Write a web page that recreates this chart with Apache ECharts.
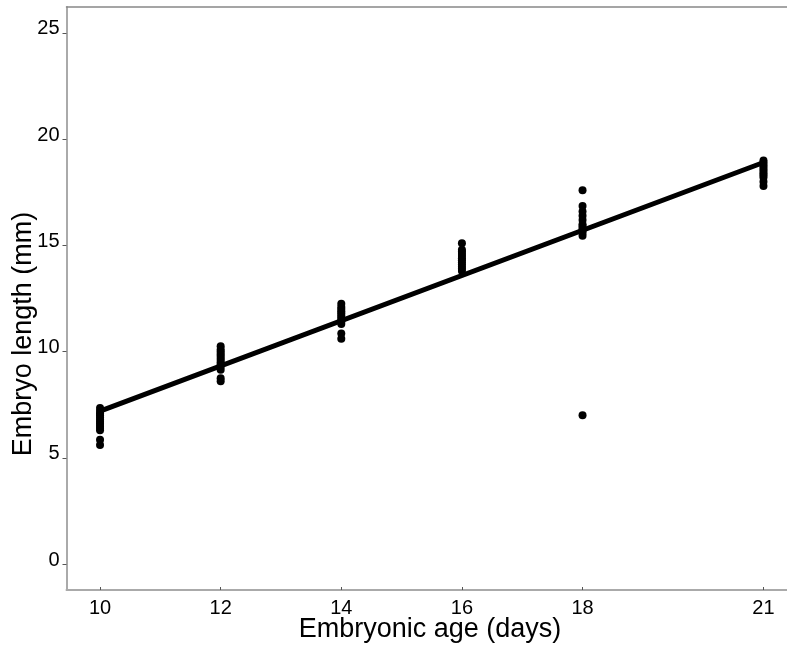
<!DOCTYPE html>
<html>
<head>
<meta charset="utf-8">
<script src="https://cdn.jsdelivr.net/npm/echarts@6/dist/echarts.min.js"></script>
<style>html,body{margin:0;padding:0;background:#fff}#c{width:787px;height:650px}</style>
</head>
<body>
<div id="c"></div>
<script>
// Data
var ages = [10, 12, 14, 16, 18, 21];
var len10 = [7.35, 7.2, 7.1, 7.0, 6.9, 6.8, 6.7, 6.6, 6.5, 6.4, 6.3, 5.85, 5.6];
var len12 = [10.25, 10.1, 10.0, 9.9, 9.8, 9.7, 9.6, 9.5, 9.4, 9.3, 9.15, 8.75, 8.6];
var len14 = [12.25, 12.1, 12.0, 11.9, 11.8, 11.7, 11.6, 11.5, 11.4, 11.3, 10.85, 10.6];
var len16 = [15.1, 14.8, 14.7, 14.6, 14.5, 14.4, 14.3, 14.2, 14.1, 14.0, 13.9, 13.8];
var len18 = [17.6, 16.85, 16.6, 16.4, 16.2, 16.0, 15.9, 15.8, 15.7, 15.6, 15.45, 7.0];
var len21 = [19.0, 18.9, 18.8, 18.7, 18.6, 18.5, 18.4, 18.3, 18.2, 18.0, 17.8];
var fitX = [10, 21];
var fitY = [7.2, 18.9];
var xTicks = [10, 12, 14, 16, 18, 21];
var yTicks = [0, 5, 10, 15, 20, 25];

var groups = [len10, len12, len14, len16, len18, len21];
var pts = [];
groups.forEach(function (g, i) {
  g.forEach(function (v) { pts.push([ages[i], v]); });
});
var fit = fitX.map(function (x, i) { return [x, fitY[i]]; });

var chart = echarts.init(document.getElementById('c'), null, {renderer: 'canvas'});
var font = '"Liberation Sans", Arial, sans-serif';
chart.setOption({
  animation: false,
  backgroundColor: '#ffffff',
  grid: {left: 66.5, right: 0, top: 7, bottom: 60, containLabel: false},
  xAxis: [{
    type: 'value', min: 9.444, max: 21.39, position: 'bottom',
    splitLine: {show: false},
    axisLine: {show: true, onZero: false, lineStyle: {color: '#aaaaaa', width: 2}},
    axisTick: {show: true, inside: true, length: 3, customValues: xTicks, lineStyle: {color: '#555', width: 1}},
    axisLabel: {customValues: xTicks, color: '#000', fontSize: 20, fontFamily: font, margin: 8}
  }, {
    type: 'value', min: 9.444, max: 21.39, position: 'top',
    splitLine: {show: false},
    axisLine: {show: true, onZero: false, lineStyle: {color: '#888888', width: 1.5}},
    axisTick: {show: false}, axisLabel: {show: false}
  }],
  yAxis: {
    type: 'value', min: -1.22, max: 26.22,
    splitLine: {show: false},
    axisLine: {show: true, onZero: false, lineStyle: {color: '#aaaaaa', width: 2}},
    axisTick: {show: true, length: 4, customValues: yTicks, lineStyle: {color: '#555', width: 1}},
    axisLabel: {customValues: yTicks, color: '#000', fontSize: 20, fontFamily: font, margin: 7,
      verticalAlign: 'bottom', lineHeight: 8}
  },
  graphic: [{
    type: 'text', x: 24, y: 334, rotation: Math.PI / 2,
    style: {text: 'Embryo length (mm)', fill: '#000', font: '27px ' + font, textAlign: 'center', textVerticalAlign: 'middle'}
  }, {
    type: 'text', x: 430, y: 630,
    style: {text: 'Embryonic age (days)', fill: '#000', font: '27px ' + font, textAlign: 'center', textVerticalAlign: 'middle'}
  }],
  series: [{
    type: 'scatter', data: pts, symbol: 'circle', symbolSize: 8,
    itemStyle: {color: '#000', opacity: 1}, xAxisIndex: 0
  }, {
    type: 'line', data: fit, showSymbol: false, symbol: 'none',
    lineStyle: {color: '#000', width: 5, cap: 'round'}, xAxisIndex: 0
  }]
});
</script>
</body>
</html>
